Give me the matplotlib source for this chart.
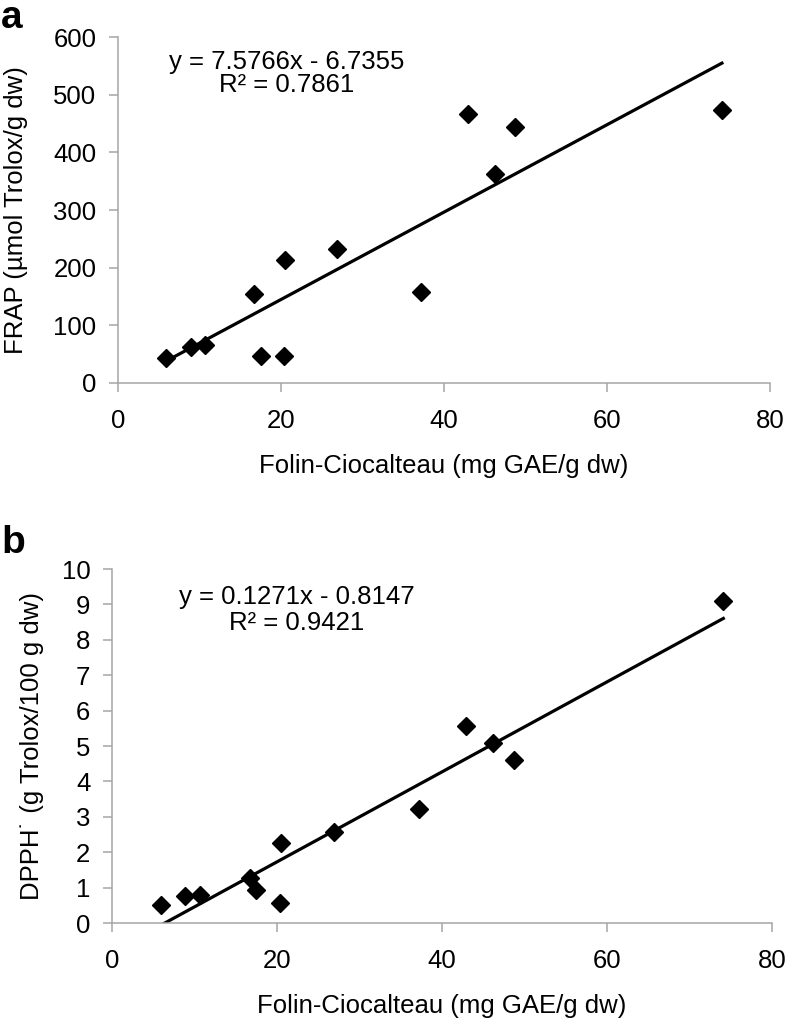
import matplotlib

matplotlib.use("Agg")
import matplotlib.pyplot as plt
import numpy as np

plt.rcParams["font.family"] = ["Liberation Sans", "DejaVu Sans"]

# Folin-Ciocalteau (mg GAE/g dw), shared by both panels
folin = [5.9, 8.9, 10.7, 16.7, 17.5, 20.5, 20.4, 26.9, 37.2, 42.9, 46.2, 48.7, 74.1]
frap = [44, 63, 66, 154, 46, 213, 47, 232, 157, 466, 362, 444, 473]
dpph = [0.50, 0.76, 0.80, 1.26, 0.93, 2.25, 0.57, 2.58, 3.21, 5.57, 5.08, 4.60, 9.09]

# trendline coefficients printed on the chart
frap_fit = (7.5766, -6.7355, 0.7861)
dpph_fit = (0.1271, -0.8147, 0.9421)

W, H = 788, 1022
GREY = "#a6a6a6"
FS = 18.5


def px_axes(fig, left, top, right, bottom):
    return fig.add_axes([left / W, 1 - bottom / H, (right - left) / W, (bottom - top) / H])


def draw_panel(ax, y, fit, ylim, yticks, ylabel, eq_pos, ylabelpad):
    slope, icpt, r2 = fit
    x = np.array(folin)
    xs = np.array([x.min(), x.max()])
    ax.plot(xs, slope * xs + icpt, color="black", lw=2.3, zorder=2)
    ax.plot(x, y, linestyle="none", marker="D", markersize=8.7, color="black", zorder=3)

    ax.set_xlim(0, 80)
    ax.set_ylim(*ylim)
    ax.set_xticks([0, 20, 40, 60, 80])
    ax.set_yticks(yticks)
    for s in ("top", "right"):
        ax.spines[s].set_visible(False)
    for s in ("left", "bottom"):
        ax.spines[s].set_color(GREY)
        ax.spines[s].set_linewidth(1.1)
    ax.tick_params(axis="both", colors=GREY, labelcolor="black", labelsize=FS,
                   length=6.5, width=1.1, direction="out")
    ax.tick_params(axis="x", pad=12)
    ax.tick_params(axis="y", pad=9)
    ax.set_xlabel("Folin-Ciocalteau (mg GAE/g dw)", fontsize=FS, labelpad=15)
    ax.set_ylabel(ylabel, fontsize=FS, labelpad=ylabelpad)

    sign = "-" if icpt < 0 else "+"
    ax.text(eq_pos[0], eq_pos[1], f"y = {slope:.4f}x {sign} {abs(icpt):.4f}",
            transform=ax.transAxes, ha="center", va="center", fontsize=FS)
    ax.text(eq_pos[0], eq_pos[2], f"R² = {r2:.4f}",
            transform=ax.transAxes, ha="center", va="center", fontsize=FS)


fig = plt.figure(figsize=(W / 100, H / 100), dpi=100)

ax_a = px_axes(fig, 118, 37, 770, 383)
draw_panel(ax_a, frap, frap_fit, (0, 600), range(0, 601, 100),
           "FRAP (µmol Trolox/g dw)", (0.259, 0.928, 0.861), 18)

ax_b = px_axes(fig, 112, 569, 772, 923)
draw_panel(ax_b, dpph, dpph_fit, (0, 10), range(0, 11),
           "DPPH˙ (g Trolox/100 g dw)", (0.280, 0.921, 0.847), 13)

fig.text(1 / W, 1 - 28 / H, "a", fontsize=28, fontweight="bold", va="baseline")
fig.text(1 / W, 1 - 553 / H, "b", fontsize=28, fontweight="bold", va="baseline")

fig.savefig("out.png", dpi=100)
